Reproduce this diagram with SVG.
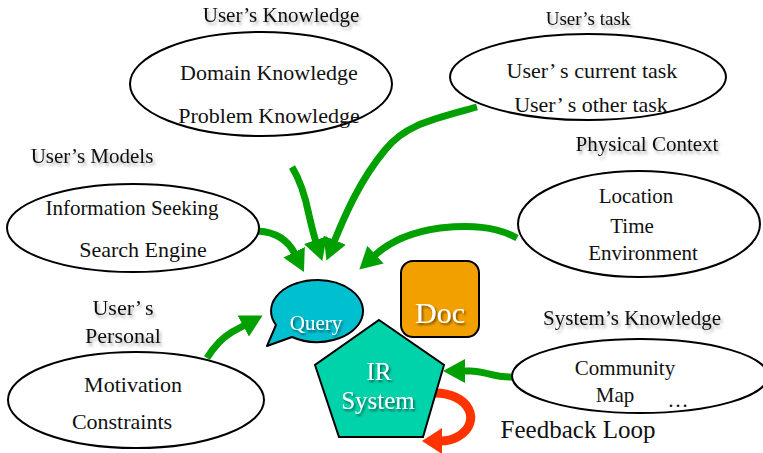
<svg xmlns="http://www.w3.org/2000/svg" width="763" height="453" viewBox="0 0 763 453">
  <style>
    text { font-family: "Liberation Serif", "Times New Roman", serif; fill: #111; text-anchor: middle; }
    .title { font-size: 21px; filter: url(#soft); }
    .inner { font-size: 22px; }
    .light { fill: #fff; filter: url(#dark); }
    .oval { fill: #fff; stroke: #000; stroke-width: 2; }
    .flow { fill: none; stroke: #00a000; stroke-width: 7; }
    .loop { fill: none; stroke: #ff3300; stroke-width: 9; }
  </style>
  <defs>
    <filter id="soft" x="-10%" y="-40%" width="130%" height="200%">
      <feDropShadow dx="2" dy="3" stdDeviation="1.8" flood-color="#000" flood-opacity="0.3"/>
    </filter>
    <filter id="dark" x="-20%" y="-40%" width="150%" height="200%">
      <feDropShadow dx="1.5" dy="2" stdDeviation="1.2" flood-color="#000" flood-opacity="0.55"/>
    </filter>
    <marker id="head" viewBox="0 0 22 24" refX="2" refY="12" markerWidth="22" markerHeight="24" markerUnits="userSpaceOnUse" orient="auto">
      <path d="M0,0 L22,12 L0,24 Z" fill="#00a000"/>
    </marker>
    <marker id="headRed" viewBox="0 0 20 26" refX="2" refY="13" markerWidth="20" markerHeight="26" markerUnits="userSpaceOnUse" orient="auto">
      <path d="M0,0 L20,13 L0,26 Z" fill="#ff3300"/>
    </marker>
  </defs>

  <!-- connectors -->
  <g id="connectors">
    <path class="flow" d="M477,107 C430,120 405,125 385,150 C360,180 345,215 334,242" marker-end="url(#head)"/>
    <path class="flow" d="M292,167 C300,180 305,195 309,215 C312,228 314,236 316,242" marker-end="url(#head)"/>
    <path class="flow" d="M258,231 C275,232 288,240 295,254" marker-end="url(#head)"/>
    <path class="flow" d="M517,238 C495,226 470,225 440,228 C410,232 388,243 374,256" marker-end="url(#head)"/>
    <path class="flow" d="M207,358 C215,345 222,338 232,332 L245,325" marker-end="url(#head)"/>
    <path class="flow" d="M512,377 C495,378 485,371 470,371 L463,371" marker-end="url(#head)"/>
    <path class="loop" d="M433,393 C470,392 482,422 459,436 C453,440 446,441 440,441" marker-end="url(#headRed)"/>
  </g>

  <!-- user's knowledge -->
  <g id="users-knowledge">
    <text class="title" x="281" y="22">User’s Knowledge</text>
    <ellipse class="oval" cx="261" cy="84" rx="131" ry="52"/>
    <text class="inner" x="269" y="80">Domain Knowledge</text>
    <text class="inner" x="269" y="123">Problem Knowledge</text>
  </g>

  <!-- user's task -->
  <g id="users-task">
    <text class="title" x="588" y="25" style="font-size:19px">User’s task</text>
    <ellipse class="oval" cx="588" cy="77" rx="138" ry="43"/>
    <text class="inner" x="592" y="78">User’<tspan dx="5">s current task</tspan></text>
    <text class="inner" x="591" y="112">User’<tspan dx="5">s other task</tspan></text>
  </g>

  <!-- physical context -->
  <g id="physical-context">
    <text class="title" x="647" y="151">Physical Context</text>
    <ellipse class="oval" cx="639" cy="224" rx="121" ry="53"/>
    <text class="inner" x="636" y="203" style="font-size:21px">Location</text>
    <text class="inner" x="632" y="233" style="font-size:21px">Time</text>
    <text class="inner" x="643" y="260" style="font-size:21px">Environment</text>
  </g>

  <!-- user's models -->
  <g id="users-models">
    <text class="title" x="92" y="163">User’s Models</text>
    <ellipse class="oval" cx="133" cy="228" rx="126" ry="44"/>
    <text class="inner" x="132" y="215" style="font-size:21px">Information Seeking</text>
    <text class="inner" x="143" y="257">Search Engine</text>
  </g>

  <!-- user's personal -->
  <g id="users-personal">
    <text class="title" x="123" y="315" style="font-size:22px">User’<tspan dx="4">s</tspan></text>
    <text class="title" x="123" y="343" style="font-size:22px">Personal</text>
    <ellipse class="oval" cx="136" cy="400" rx="128" ry="48"/>
    <text class="inner" x="133" y="392">Motivation</text>
    <text class="inner" x="122" y="429">Constraints</text>
  </g>

  <!-- system's knowledge -->
  <g id="systems-knowledge">
    <text class="title" x="632" y="325">System’s Knowledge</text>
    <ellipse class="oval" cx="640" cy="376" rx="128" ry="37"/>
    <text class="inner" x="625" y="375" style="font-size:21px">Community</text>
    <text class="inner" x="615" y="402" style="font-size:21px">Map</text>
    <text class="inner" x="678" y="407" style="font-size:21px">…</text>
  </g>

  <!-- query bubble -->
  <g id="query">
    <path d="M292,337 A46,31 0 1 0 276,325 L267,346 Z" fill="#00bfcf" stroke="#000" stroke-width="2" stroke-linejoin="round"/>
    <text class="light" x="316" y="330" style="font-size:21px">Query</text>
  </g>

  <!-- document -->
  <g id="doc">
    <rect x="401" y="261" width="78" height="76" rx="12" fill="#f2a000" stroke="#000" stroke-width="2"/>
    <text class="light" x="440" y="323" style="font-size:30px">Doc</text>
  </g>

  <!-- retrieval system -->
  <g id="ir-system">
    <polygon points="379,320 444,365 423,437 339,437 315,365" fill="#00d2aa" stroke="#000" stroke-width="2"/>
    <text class="light" x="379" y="380" style="font-size:25px">IR</text>
    <text class="light" x="378" y="409" style="font-size:25px">System</text>
  </g>

  <!-- feedback label -->
  <g id="feedback-loop">
    <text x="578" y="438" style="font-size:25px">Feedback Loop</text>
  </g>
</svg>
